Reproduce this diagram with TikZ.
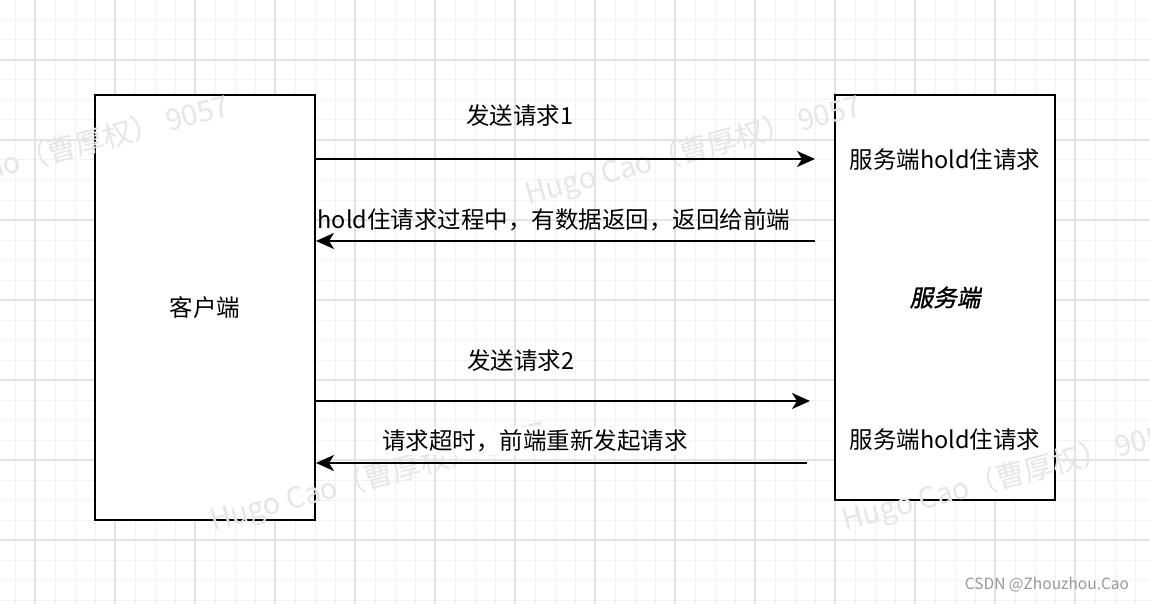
\documentclass[tikz,border=0pt]{standalone}
\usepackage{fontspec}
\setmainfont{Noto Sans CJK SC}
\newfontfamily\boldslant{Noto Sans CJK SC}[FakeBold=1.5,FakeSlant=0.2]
\usetikzlibrary{arrows.meta, positioning}
\definecolor{gridminor}{HTML}{F2F2F2}
\definecolor{gridmajor}{HTML}{E3E3E3}
\definecolor{wmgray}{HTML}{E6E6E6}

\begin{document}
\begin{tikzpicture}[x=1pt, y=-1pt,
    box/.style={draw, line width=2pt, fill=white, minimum width=220pt, inner sep=0pt},
    msg/.style={-{Stealth[length=18pt, width=16pt, inset=5pt]}, line width=2pt},
    txt/.style={font=\fontsize{23.5}{28}\selectfont, inner sep=0pt},
    wmark/.style={font=\fontsize{29}{32}\selectfont, text=wmgray, rotate=15, anchor=base west, inner sep=0pt}]
    \useasboundingbox (0,0) rectangle (1150,604);
    \fill[white] (0,0) rectangle (1150,604);

    % grid
    \foreach \x in {15,35,...,1150}
        \draw[gridminor, line width=1pt] (\x,0) -- (\x,604);
    \foreach \y in {0,20,...,604}
        \draw[gridminor, line width=1pt] (0,\y) -- (1150,\y);
    \foreach \x in {35,115,...,1150}
        \draw[gridmajor, line width=1.3pt] (\x,0) -- (\x,604);
    \foreach \y in {60,140,...,604}
        \draw[gridmajor, line width=1.3pt] (0,\y) -- (1150,\y);

    % client and server
    \node[box, txt, minimum height=425pt] (client) at (205,307.5) {客户端};
    \node[box, txt, minimum height=405pt] (server) at (945,297.5) {\boldslant 服务端};

    % watermarks
    \foreach \wx/\wy in {-104/205, 528/205, 213/531, 845/531}
        \node[wmark] at (\wx,\wy) {Hugo Cao（曹厚权） 9057};

    \node[txt] (hold1) at (945,160) {服务端hold住请求};
    \node[txt] (hold2) at (945,440) {服务端hold住请求};

    % messages
    \coordinate (req1) at (815,159);
    \coordinate (resp1) at (815,241);
    \coordinate (req2) at (810,401);
    \coordinate (resp2) at (807,463);

    \draw[msg] (client.east |- req1) -- (req1);
    \draw[msg] (resp1) -- (client.east |- resp1);
    \draw[msg] (client.east |- req2) -- (req2);
    \draw[msg] (resp2) -- (client.east |- resp2);

    \node[txt] (send1) at (520,116) {发送请求1};
    \node[txt] (back1) at (554,220) {hold住请求过程中，有数据返回，返回给前端};
    \node[txt] (send2) at (521,361) {发送请求2};
    \node[txt, fill=white, inner xsep=2pt, inner ysep=3pt] (retry) at (535,441) {请求超时，前端重新发起请求};

    \node[font=\fontsize{15.5}{18}\selectfont, text=black!40, inner sep=0pt] (csdn) at (1047,585) {CSDN @Zhouzhou.Cao};
\end{tikzpicture}
\end{document}
